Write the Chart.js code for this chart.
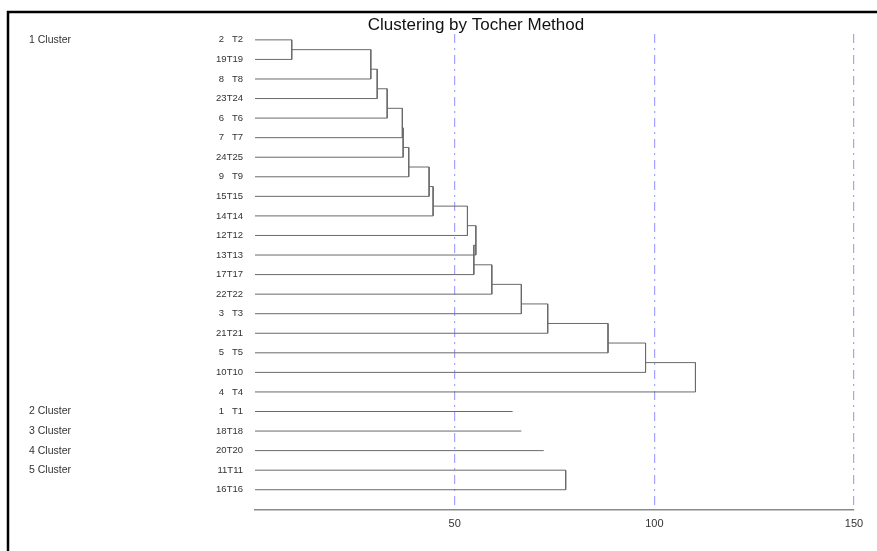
<!DOCTYPE html>
<html>
<head>
<meta charset="utf-8">
<title>Clustering by Tocher Method</title>
<script src="https://cdn.jsdelivr.net/npm/chart.js@4.4.1/dist/chart.umd.min.js"></script>
<style>
  html, body { margin: 0; padding: 0; background: #fff; }
  #wrap { width: 877px; height: 551px; }
</style>
</head>
<body>
<div id="wrap"><canvas id="tocher"></canvas></div>
<script>
const titleText = 'Clustering by Tocher Method';

// genotypes in plotting order (top to bottom)
const leafIds = [2, 19, 8, 23, 6, 7, 24, 9, 15, 14, 12, 13, 17, 22, 3, 21, 5, 10, 4, 1, 18, 20, 11, 16];
const leafNames = ['T2', 'T19', 'T8', 'T24', 'T6', 'T7', 'T25', 'T9', 'T15', 'T14', 'T12', 'T13',
  'T17', 'T22', 'T3', 'T21', 'T5', 'T10', 'T4', 'T1', 'T18', 'T20', 'T11', 'T16'];

const clusterNames = ['1 Cluster', '2 Cluster', '3 Cluster', '4 Cluster', '5 Cluster'];
const clusterSizes = [19, 1, 1, 1, 2];

// distance at which each next genotype joins cluster 1
const cluster1Joins = [9.2, 29.0, 30.6, 33.1, 36.9, 37.1, 38.5, 43.6, 44.6, 53.2,
  55.3, 54.8, 59.3, 66.7, 73.3, 88.4, 97.8, 110.3];
const cluster2Joins = [64.5];
const cluster3Joins = [66.7];
const cluster4Joins = [72.3];
const cluster5Joins = [77.8];

const xTicks = [50, 100, 150];

const allJoins = [cluster1Joins, cluster2Joins, cluster3Joins, cluster4Joins, cluster5Joins];

// build the dendrogram segments: leaf lines, verticals, links between nodes
let segments = [];
let clusterStarts = [];
let row = 0;
clusterSizes.forEach((n, c) => {
  const h = allJoins[c];
  clusterStarts.push(row);
  segments.push([0, row, h[0], row]);
  for (let k = 1; k < n; k++) {
    const hk = h[k - 1];
    const top = k === 1 ? row : row + k - 1.5;
    segments.push([0, row + k, hk, row + k]);
    segments.push([hk, top, hk, row + k]);
    if (k > 1) segments.push([h[k - 2], top, hk, top]);
  }
  row += n;
});

let treePoints = [];
segments.forEach(s => {
  treePoints.push({ x: s[0], y: s[1] });
  treePoints.push({ x: s[2], y: s[3] });
  treePoints.push({ x: s[2], y: null });
});

function leafLabel(i) {
  const id = String(leafIds[i]);
  const name = leafNames[i];
  if (id.length === 1 && name.length === 2) return id + '   ' + name;
  return id + name;
}

const frameAndTitle = {
  id: 'frameAndTitle',
  afterDraw(chart) {
    const ctx = chart.ctx;
    ctx.save();
    ctx.strokeStyle = '#000';
    ctx.lineWidth = 2.5;
    ctx.beginPath();
    ctx.moveTo(8, chart.height);
    ctx.lineTo(8, 12);
    ctx.lineTo(chart.width, 12);
    ctx.stroke();
    ctx.fillStyle = '#111';
    ctx.font = '17px "Liberation Sans", Arial, sans-serif';
    ctx.textAlign = 'center';
    ctx.textBaseline = 'alphabetic';
    ctx.fillText(titleText, 476, 30);
    ctx.restore();
  }
};

Chart.defaults.font.family = '"Liberation Sans", Arial, Helvetica, sans-serif';
Chart.defaults.color = '#333';

const ctx = document.getElementById('tocher').getContext('2d');
const tocherChart = new Chart(ctx, {
  type: 'line',
  data: {
    datasets: [{
      data: treePoints,
      borderColor: '#6a6a6a',
      borderWidth: 1,
      pointRadius: 0,
      tension: 0,
      spanGaps: false,
      fill: false
    }]
  },
  plugins: [frameAndTitle],
  options: {
    responsive: true,
    maintainAspectRatio: false,
    animation: false,
    events: [],
    layout: {
      padding: { left: 29, right: 23, top: 34, bottom: 12.5 }
    },
    plugins: {
      legend: { display: false },
      tooltip: { enabled: false },
      title: { display: false }
    },
    scales: {
      x: {
        type: 'linear',
        min: 0,
        max: 150,
        afterBuildTicks: s => { s.ticks = xTicks.map(v => ({ value: v })); },
        grid: {
          color: 'rgba(125, 125, 255, 0.7)',
          lineWidth: 1.2,
          drawTicks: false
        },
        border: {
          display: true,
          color: '#8a8a8a',
          width: 1.5,
          dash: [9, 5, 2, 5]
        },
        ticks: {
          padding: 8,
          maxRotation: 0,
          font: { size: 11 },
          color: '#333'
        }
      },
      y2: {
        type: 'linear',
        position: 'left',
        weight: 10,
        reverse: true,
        min: -0.3,
        max: 24,
        afterBuildTicks: s => { s.ticks = clusterStarts.map(v => ({ value: v })); },
        afterFit: s => { s.width = 100; },
        grid: { display: false },
        border: { display: false },
        ticks: {
          autoSkip: false,
          crossAlign: 'far',
          font: { size: 10.5 },
          color: '#333',
          callback: (v, i) => clusterNames[i]
        }
      },
      y: {
        type: 'linear',
        position: 'left',
        weight: 0,
        reverse: true,
        min: -0.3,
        max: 24,
        afterBuildTicks: s => { s.ticks = leafIds.map((_, i) => ({ value: i })); },
        afterFit: s => { s.width = 126; },
        grid: { display: false, drawTicks: false },
        border: { display: false },
        ticks: {
          autoSkip: false,
          padding: 12,
          font: { size: 9.5 },
          color: '#333',
          callback: (v, i) => leafLabel(i)
        }
      }
    }
  }
});
</script>
</body>
</html>
